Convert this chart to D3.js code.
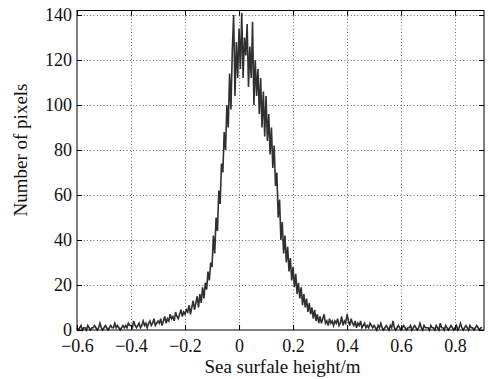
<!DOCTYPE html>
<html>
<head>
<meta charset="utf-8">
<script src="https://cdn.jsdelivr.net/npm/d3@7"></script>
<style>
  html, body { margin: 0; padding: 0; background: #fff; }
  svg { display: block; }
  text { font-family: "Liberation Serif", "Times New Roman", serif; fill: #111; }
</style>
</head>
<body>
<div id="chart"></div>
<script>
// histogram of sea surface height, bin width 0.005 m starting at -0.6 m
const binStart = -0.6
const binWidth = 0.005

// counts, one row per 0.1 m
const countsNeg = [
  [1, 0, 1, 2, 0, 1, 1, 0, 2, 1, 0, 1, 1, 2, 1, 0, 1, 3, 1, 0], // -0.6
  [1, 2, 1, 0, 1, 2, 1, 1, 3, 1, 2, 1, 0, 1, 2, 1, 2, 1, 3, 2], // -0.5
  [2, 1, 4, 2, 1, 2, 3, 1, 2, 4, 2, 3, 1, 3, 4, 2, 3, 5, 2, 3], // -0.4
  [4, 3, 5, 2, 4, 6, 3, 5, 4, 7, 5, 6, 4, 8, 6, 5, 7, 9, 6, 8], // -0.3
  [7, 9, 8, 11, 7, 10, 13, 9, 12, 15, 10, 16, 12, 19, 14, 21, 18, 26, 22, 30], // -0.2
  [28, 42, 34, 50, 44, 62, 56, 74, 70, 88, 80, 100, 90, 114, 98, 124, 140, 104, 128, 112], // -0.1
]
const countsPos = [
  [134, 116, 141, 112, 130, 122, 136, 108, 126, 112, 137, 100, 120, 104, 116, 96, 112, 90, 106, 86], // 0.0
  [104, 84, 96, 78, 90, 72, 82, 64, 70, 50, 58, 40, 48, 34, 42, 30, 37, 26, 32, 22], // 0.1
  [28, 19, 25, 16, 21, 14, 19, 11, 16, 10, 14, 8, 12, 7, 10, 5, 9, 4, 7, 3], // 0.2
  [6, 3, 5, 7, 3, 4, 2, 5, 3, 4, 2, 4, 3, 5, 2, 3, 6, 2, 4, 3], // 0.3
  [7, 4, 2, 5, 3, 2, 4, 1, 3, 2, 4, 1, 2, 3, 1, 2, 1, 3, 2, 1], // 0.4
  [2, 1, 0, 2, 1, 3, 1, 0, 1, 2, 1, 0, 2, 1, 4, 1, 0, 1, 2, 1], // 0.5
  [0, 1, 2, 1, 0, 1, 1, 2, 0, 1, 2, 1, 0, 1, 3, 1, 0, 2, 1, 1], // 0.6
  [1, 0, 2, 1, 1, 0, 2, 1, 0, 3, 1, 1, 0, 2, 1, 0, 1, 2, 1, 0], // 0.7
  [1, 2, 0, 1, 3, 1, 0, 1, 2, 1, 0, 2, 1, 1, 0, 1, 2, 1, 0, 1, 1], // 0.8
]

const xTicks = [-0.6, -0.4, -0.2, 0, 0.2, 0.4, 0.6, 0.8]
const yTicks = [0, 20, 40, 60, 80, 100, 120, 140]
const xDomain = [-0.6, 0.907]
const yDomain = [0, 142]
const xLabel = 'Sea surfale height/m'
const yLabel = 'Number of pixels'

const width = 494
const height = 379
const margin = { top: 10.5, right: 10, bottom: 49, left: 77 }

const counts = countsNeg.concat(countsPos).flat()
const series = counts.map((c, i) => ({ x: binStart + i * binWidth, y: c }))

const svg = d3
  .select('#chart')
  .append('svg')
  .attr('width', width)
  .attr('height', height)

const x = d3
  .scaleLinear()
  .domain(xDomain)
  .range([margin.left, width - margin.right])

const y = d3
  .scaleLinear()
  .domain(yDomain)
  .range([height - margin.bottom, margin.top])

const x0 = x.range()[0]
const x1 = x.range()[1]
const y0 = y.range()[0]
const y1 = y.range()[1]

// dotted grid
const grid = svg.append('g').attr('stroke', '#666').attr('stroke-width', 1).attr('stroke-dasharray', '1,2.3')
grid
  .selectAll('line.gx')
  .data(xTicks.slice(1))
  .enter()
  .append('line')
  .attr('x1', (d) => Math.round(x(d)) + 0.5)
  .attr('x2', (d) => Math.round(x(d)) + 0.5)
  .attr('y1', y0)
  .attr('y2', y1)
grid
  .selectAll('line.gy')
  .data(yTicks.slice(1))
  .enter()
  .append('line')
  .attr('x1', x0)
  .attr('x2', x1)
  .attr('y1', (d) => Math.round(y(d)) + 0.5)
  .attr('y2', (d) => Math.round(y(d)) + 0.5)

// data line
const line = d3
  .line()
  .x((d) => x(d.x))
  .y((d) => y(d.y))

svg
  .append('path')
  .datum(series)
  .attr('fill', 'none')
  .attr('stroke', '#303030')
  .attr('stroke-width', 1.6)
  .attr('stroke-linejoin', 'miter')
  .attr('d', line)

// axes, ticks pointing inward (matlab style box)
const tickLen = 5
const xAxisB = d3.axisBottom(x).tickValues(xTicks).tickSize(-tickLen).tickPadding(9)
  .tickFormat((d) => (d < 0 ? '\u2212' : '') + Math.abs(d))
const xAxisT = d3.axisTop(x).tickValues(xTicks).tickSize(-tickLen).tickFormat('')
const yAxisL = d3.axisLeft(y).tickValues(yTicks).tickSize(-tickLen).tickPadding(5)
const yAxisR = d3.axisRight(y).tickValues(yTicks).tickSize(-tickLen).tickFormat('')

function styleAxis(g) {
  g.select('.domain').remove()
  g.selectAll('.tick line').attr('stroke', '#000')
  g.selectAll('.tick text').attr('font-size', 18).attr('fill', '#111').attr('font-family', '"Liberation Serif", serif')
}

svg.append('g').attr('transform', `translate(0,${y0})`).call(xAxisB).call(styleAxis)
svg.append('g').attr('transform', `translate(0,${y1})`).call(xAxisT).call(styleAxis)
svg.append('g').attr('transform', `translate(${x0},0)`).call(yAxisL).call(styleAxis)
svg.append('g').attr('transform', `translate(${x1},0)`).call(yAxisR).call(styleAxis)

svg
  .append('rect')
  .attr('x', x0)
  .attr('y', y1)
  .attr('width', x1 - x0)
  .attr('height', y0 - y1)
  .attr('fill', 'none')
  .attr('stroke', '#000')
  .attr('stroke-width', 1)

// axis titles
svg
  .append('text')
  .attr('x', (x0 + x1) / 2 + 2)
  .attr('y', 373)
  .attr('text-anchor', 'middle')
  .attr('font-size', 19)
  .text(xLabel)

svg
  .append('text')
  .attr('transform', 'translate(27,150) rotate(-90)')
  .attr('text-anchor', 'middle')
  .attr('font-size', 19)
  .text(yLabel)
</script>
</body>
</html>
